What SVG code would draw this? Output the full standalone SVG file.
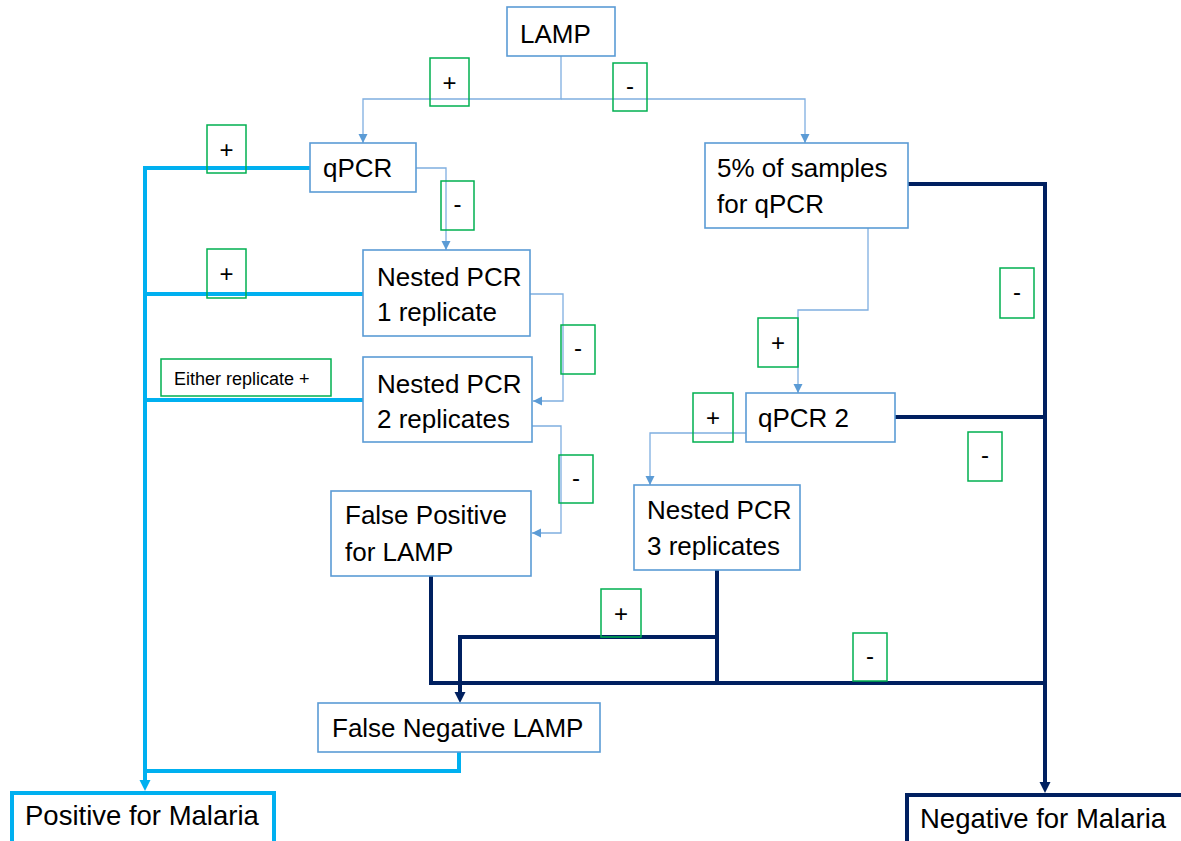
<svg xmlns="http://www.w3.org/2000/svg" width="1181" height="841" viewBox="0 0 1181 841">
<style>
.node rect{fill:#fff;stroke:#5B9BD5;stroke-width:1.6}
.node text,.lbl text{font-family:"Liberation Sans",Arial,sans-serif;fill:#000}
.node text{font-size:26px}
.lbl rect{fill:none;stroke:#00B050;stroke-width:1.5}
.lbl text{font-size:24px;text-anchor:middle}
.thin{fill:none;stroke:#7FAEE0;stroke-width:1.3}
.cyan{fill:none;stroke:#00B0F0;stroke-width:4}
.navy{fill:none;stroke:#002060;stroke-width:4}
</style>
<defs>
<marker id="aThin" markerUnits="userSpaceOnUse" markerWidth="10" markerHeight="10" refX="9" refY="4.5" orient="auto"><path d="M0,0 L9,4.5 L0,9 z" fill="#5B9BD5"/></marker>
<marker id="aCyan" markerUnits="userSpaceOnUse" markerWidth="12" markerHeight="12" refX="0" refY="5.5" orient="auto"><path d="M0,0 L11,5.5 L0,11 z" fill="#00B0F0"/></marker>
<marker id="aNavy" markerUnits="userSpaceOnUse" markerWidth="12" markerHeight="12" refX="0" refY="5.5" orient="auto"><path d="M0,0 L11,5.5 L0,11 z" fill="#002060"/></marker>
</defs>
<rect width="1181" height="841" fill="#fff"/>
<g id="connectors">
<path class="thin" d="M561,56 V99 H363 V143" marker-end="url(#aThin)"/>
<path class="thin" d="M561,99 H805 V143" marker-end="url(#aThin)"/>
<path class="thin" d="M416,168 H446 V250" marker-end="url(#aThin)"/>
<path class="thin" d="M530,294 H563 V401 H533" marker-end="url(#aThin)"/>
<path class="thin" d="M532,426 H561 V533 H532" marker-end="url(#aThin)"/>
<path class="thin" d="M868,228 V310 H798 V393" marker-end="url(#aThin)"/>
<path class="thin" d="M746,433 H650 V485" marker-end="url(#aThin)"/>
<path class="cyan" d="M310,168 H145 V780" marker-end="url(#aCyan)"/>
<path class="cyan" d="M363,294 H145"/>
<path class="cyan" d="M363,400 H145"/>
<path class="cyan" d="M459,752 V771 H145"/>
<path class="navy" d="M907,184 H1045 V782" marker-end="url(#aNavy)"/>
<path class="navy" d="M895,417 H1045"/>
<path class="navy" d="M431,576 V683 H1045"/>
<path class="navy" d="M717,570 V683"/>
<path class="navy" d="M717,637 H460 V692" marker-end="url(#aNavy)"/>
</g>
<g id="lamp" class="node"><rect x="507" y="7" width="108" height="49"/><text x="520" y="43">LAMP</text></g>
<g id="qpcr" class="node"><rect x="310" y="143" width="106" height="49"/><text x="323" y="177">qPCR</text></g>
<g id="five-percent" class="node"><rect x="705" y="143" width="203" height="85"/><text x="717" y="177">5% of samples</text><text x="717" y="213">for qPCR</text></g>
<g id="nested1" class="node"><rect x="363" y="250" width="167" height="86"/><text x="377" y="286">Nested PCR</text><text x="377" y="321">1 replicate</text></g>
<g id="nested2" class="node"><rect x="363" y="357" width="169" height="85"/><text x="377" y="393">Nested PCR</text><text x="377" y="428">2 replicates</text></g>
<g id="qpcr2" class="node"><rect x="746" y="393" width="149" height="49"/><text x="758" y="427">qPCR 2</text></g>
<g id="false-positive" class="node"><rect x="331" y="491" width="200" height="85"/><text x="345" y="524">False Positive</text><text x="345" y="561">for LAMP</text></g>
<g id="nested3" class="node"><rect x="634" y="485" width="166" height="85"/><text x="647" y="519">Nested PCR</text><text x="647" y="555">3 replicates</text></g>
<g id="false-negative" class="node"><rect x="318" y="703" width="282" height="49"/><text x="332" y="737">False Negative LAMP</text></g>
<g id="positive" class="node"><rect x="12" y="793" width="262" height="60" style="stroke:#00B0F0;stroke-width:4"/><text x="25" y="825" style="font-size:27.5px">Positive for Malaria</text></g>
<g id="negative" class="node"><rect x="907" y="795" width="300" height="60" style="stroke:#002060;stroke-width:4"/><text x="920" y="828" style="font-size:27.5px">Negative for Malaria</text></g>
<g id="labels">
<g class="lbl"><rect x="430" y="58" width="39" height="48"/><text x="449.5" y="91">+</text></g>
<g class="lbl"><rect x="613" y="63" width="34" height="48"/><text x="630" y="94">-</text></g>
<g class="lbl"><rect x="207" y="125" width="39" height="48"/><text x="226.5" y="158">+</text></g>
<g class="lbl"><rect x="441" y="181" width="33" height="49"/><text x="457.5" y="212">-</text></g>
<g class="lbl"><rect x="207" y="249" width="39" height="49"/><text x="226.5" y="282">+</text></g>
<g class="lbl"><rect x="561" y="325" width="34" height="49"/><text x="578" y="356">-</text></g>
<g class="lbl"><rect x="161" y="359" width="170" height="37"/><text x="174" y="385" style="font-size:18px;text-anchor:start">Either replicate +</text></g>
<g class="lbl"><rect x="1000" y="268" width="34" height="50"/><text x="1017" y="300">-</text></g>
<g class="lbl"><rect x="758" y="318" width="40" height="49"/><text x="778" y="351">+</text></g>
<g class="lbl"><rect x="693" y="393" width="40" height="49"/><text x="713" y="426">+</text></g>
<g class="lbl"><rect x="968" y="432" width="34" height="49"/><text x="985" y="463">-</text></g>
<g class="lbl"><rect x="559" y="455" width="34" height="48"/><text x="576" y="486">-</text></g>
<g class="lbl"><rect x="601" y="589" width="40" height="48"/><text x="621" y="622">+</text></g>
<g class="lbl"><rect x="853" y="633" width="34" height="48"/><text x="870" y="664">-</text></g>
</g>
</svg>
